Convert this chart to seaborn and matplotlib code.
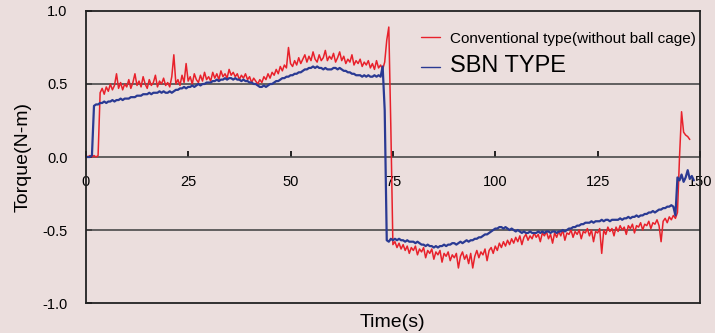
import numpy as np
import pandas as pd
import matplotlib
matplotlib.use("Agg")
import matplotlib.pyplot as plt
from matplotlib import font_manager
import seaborn as sns

conv_torque = [
    0.01, 0.00, 0.01, 0.00, 0.01, 0.00, 0.01, 0.44, 0.47, 0.43, 0.48, 0.45, 0.50, 0.46, 0.49, 0.57, 0.47, 0.51, 0.46, 0.50,
    0.48, 0.53, 0.47, 0.51, 0.57, 0.49, 0.52, 0.48, 0.55, 0.50, 0.47, 0.53, 0.49, 0.51, 0.56, 0.48, 0.52, 0.50, 0.54, 0.49,
    0.51, 0.48, 0.55, 0.70, 0.50, 0.53, 0.49, 0.56, 0.51, 0.64, 0.52, 0.55, 0.50, 0.57, 0.53, 0.51, 0.56, 0.52, 0.58, 0.53,
    0.55, 0.52, 0.58, 0.54, 0.57, 0.53, 0.59, 0.55, 0.57, 0.54, 0.60, 0.56, 0.58, 0.55, 0.57, 0.53, 0.56, 0.54, 0.57, 0.53,
    0.55, 0.51, 0.54, 0.52, 0.50, 0.53, 0.51, 0.55, 0.53, 0.57, 0.54, 0.58, 0.56, 0.60, 0.57, 0.62, 0.59, 0.63, 0.61, 0.75,
    0.64, 0.62, 0.66, 0.63, 0.68, 0.64, 0.67, 0.70, 0.65, 0.69, 0.66, 0.72, 0.67, 0.65, 0.70, 0.66, 0.68, 0.73, 0.66, 0.69,
    0.67, 0.71, 0.65, 0.68, 0.72, 0.66, 0.69, 0.64, 0.67, 0.65, 0.70, 0.63, 0.66, 0.64, 0.67, 0.62, 0.65, 0.63, 0.66, 0.61,
    0.64, 0.60, 0.66, 0.61, 0.63, 0.60, 0.65, 0.80, 0.89, 0.20, -0.60, -0.58, -0.62, -0.59, -0.63, -0.60, -0.64, -0.61, -0.66, -0.62,
    -0.64, -0.61, -0.67, -0.63, -0.65, -0.62, -0.69, -0.64, -0.66, -0.63, -0.70, -0.65, -0.67, -0.64, -0.72, -0.66, -0.68, -0.65, -0.71, -0.67,
    -0.69, -0.66, -0.76, -0.68, -0.65, -0.70, -0.67, -0.73, -0.66, -0.76, -0.68, -0.64, -0.69, -0.65, -0.67, -0.63, -0.71, -0.64, -0.62, -0.66,
    -0.61, -0.64, -0.59, -0.62, -0.58, -0.61, -0.57, -0.60, -0.56, -0.59, -0.55, -0.58, -0.54, -0.60, -0.55, -0.53, -0.57, -0.54, -0.56, -0.52,
    -0.55, -0.53, -0.58, -0.52, -0.54, -0.51, -0.56, -0.53, -0.59, -0.52, -0.55, -0.51, -0.54, -0.50, -0.57, -0.52, -0.53, -0.50, -0.55, -0.51,
    -0.53, -0.50, -0.56, -0.51, -0.52, -0.49, -0.54, -0.50, -0.58, -0.51, -0.52, -0.49, -0.66, -0.50, -0.53, -0.48, -0.51, -0.49, -0.54, -0.48,
    -0.51, -0.47, -0.50, -0.48, -0.53, -0.47, -0.49, -0.46, -0.52, -0.47, -0.48, -0.45, -0.50, -0.46, -0.47, -0.44, -0.49, -0.45, -0.46, -0.43,
    -0.47, -0.58, -0.44, -0.42, -0.45, -0.41, -0.43, -0.40, -0.42, -0.38, 0.00, 0.31, 0.17, 0.15, 0.14, 0.12,
]
sbn_torque = [
    0.00, 0.00, 0.00, 0.01, 0.35, 0.36, 0.36, 0.37, 0.37, 0.38, 0.37, 0.38, 0.38, 0.39, 0.38, 0.39, 0.39, 0.40, 0.39, 0.40,
    0.40, 0.40, 0.41, 0.41, 0.41, 0.42, 0.42, 0.42, 0.43, 0.43, 0.43, 0.44, 0.43, 0.44, 0.44, 0.44, 0.45, 0.44, 0.45, 0.44,
    0.44, 0.45, 0.44, 0.45, 0.46, 0.46, 0.47, 0.47, 0.48, 0.47, 0.48, 0.48, 0.49, 0.48, 0.49, 0.50, 0.49, 0.50, 0.50, 0.51,
    0.51, 0.51, 0.52, 0.52, 0.53, 0.52, 0.53, 0.53, 0.54, 0.53, 0.54, 0.54, 0.53, 0.54, 0.53, 0.53, 0.52, 0.53, 0.52, 0.52,
    0.51, 0.51, 0.50, 0.50, 0.49, 0.48, 0.48, 0.49, 0.48, 0.49, 0.50, 0.50, 0.51, 0.52, 0.52, 0.53, 0.54, 0.54, 0.55, 0.55,
    0.56, 0.56, 0.57, 0.57, 0.58, 0.58, 0.59, 0.60, 0.60, 0.61, 0.61, 0.62, 0.61, 0.62, 0.61, 0.61, 0.60, 0.61, 0.60, 0.60,
    0.60, 0.61, 0.61, 0.60, 0.61, 0.60, 0.59, 0.59, 0.58, 0.58, 0.57, 0.57, 0.56, 0.56, 0.56, 0.55, 0.56, 0.55, 0.56, 0.55,
    0.55, 0.56, 0.55, 0.56, 0.55, 0.62, 0.32, -0.57, -0.58, -0.56, -0.57, -0.56, -0.57, -0.56, -0.57, -0.57, -0.58, -0.57, -0.58, -0.58,
    -0.58, -0.59, -0.58, -0.59, -0.60, -0.60, -0.61, -0.60, -0.61, -0.61, -0.62, -0.61, -0.62, -0.61, -0.61, -0.60, -0.61, -0.60, -0.60, -0.59,
    -0.59, -0.60, -0.59, -0.58, -0.59, -0.58, -0.57, -0.58, -0.57, -0.57, -0.56, -0.56, -0.55, -0.55, -0.54, -0.53, -0.53, -0.52, -0.51, -0.50,
    -0.49, -0.49, -0.48, -0.48, -0.49, -0.48, -0.49, -0.50, -0.49, -0.50, -0.51, -0.50, -0.51, -0.52, -0.51, -0.52, -0.52, -0.51, -0.52, -0.52,
    -0.52, -0.51, -0.52, -0.51, -0.52, -0.51, -0.51, -0.52, -0.51, -0.51, -0.52, -0.51, -0.51, -0.50, -0.51, -0.50, -0.49, -0.49, -0.48, -0.48,
    -0.47, -0.47, -0.46, -0.46, -0.45, -0.45, -0.45, -0.44, -0.45, -0.44, -0.44, -0.44, -0.43, -0.44, -0.43, -0.43, -0.44, -0.43, -0.43, -0.43,
    -0.43, -0.42, -0.43, -0.42, -0.42, -0.41, -0.42, -0.41, -0.41, -0.40, -0.41, -0.40, -0.40, -0.39, -0.39, -0.38, -0.38, -0.37, -0.38, -0.37,
    -0.36, -0.36, -0.35, -0.35, -0.34, -0.34, -0.33, -0.34, -0.40, -0.14, -0.16, -0.12, -0.17, -0.14, -0.09, -0.15, -0.13, -0.16,
]
conv_time = np.arange(len(conv_torque)) * 0.5
sbn_time = np.arange(len(sbn_torque)) * 0.5

x_ticks = [0, 25, 50, 75, 100, 125, 150]
y_ticks = [-1.0, -0.5, 0.0, 0.5, 1.0]
labels = ["Conventional type(without ball cage)", "SBN TYPE"]

bg = "#EBDEDD"
sns.set_theme(style="ticks")
plt.rcParams["font.family"] = ["Liberation Sans", "DejaVu Sans"]
plt.rcParams.update({"text.color": "black", "axes.labelcolor": "black",
                     "xtick.color": "black", "ytick.color": "black"})

# narrow face for the first legend entry, if it is installed
try:
    font_manager.findfont("Liberation Sans Narrow", fallback_to_default=False)
    narrow, narrow_size = ["Liberation Sans Narrow"], 13.5
except ValueError:
    narrow, narrow_size = ["Liberation Sans"], 11

fig = plt.figure(figsize=(7.15, 3.33), dpi=100, facecolor=bg)
ax = fig.add_axes([0.120, 0.090, 0.859, 0.877])
ax.set_facecolor(bg)

sns.lineplot(x=conv_time, y=conv_torque, ax=ax, color="#E8212B", lw=1.1,
             label=labels[0], estimator=None, sort=False)
sns.lineplot(x=sbn_time, y=sbn_torque, ax=ax, color="#2A3A93", lw=1.6,
             label=labels[1], estimator=None, sort=False)

for yv in [0.5, -0.5]:
    ax.axhline(yv, color="#4a4a4a", lw=1.2, zorder=1)

ax.set_xlim(0, 150)
ax.set_ylim(-1, 1)
ax.set_yticks(y_ticks)
ax.set_yticklabels([f"{v:.1f}" for v in y_ticks])
ax.tick_params(axis="y", direction="in", length=4, width=1.2, pad=13,
               labelsize=10.5, colors="black")
ax.set_xticks([])
for s in ax.spines.values():
    s.set_color("#222222")
    s.set_linewidth(1.3)

# tick labels sit just under the zero line
sec = ax.secondary_xaxis(0.4999)
sec.set_xticks(x_ticks)
sec.set_xticklabels([str(v) for v in x_ticks])
sec.tick_params(direction="in", length=4, width=1.2, pad=13, labelsize=10.5,
                colors="black")
sec.spines["bottom"].set_color("#4a4a4a")
sec.spines["bottom"].set_linewidth(1.2)

ax.set_xlabel("Time(s)", fontsize=14, labelpad=8)
ax.set_ylabel("Torque(N-m)", fontsize=14, labelpad=8)

leg = ax.legend(loc="upper left", bbox_to_anchor=(0.535, 0.95), frameon=False,
                handlelength=1.3, handletextpad=0.6, labelspacing=0.6,
                borderaxespad=0)
t0, t1 = leg.get_texts()
t0.set_family(narrow + ["DejaVu Sans"])
t0.set_fontsize(narrow_size)
t1.set_fontsize(17)
for t in (t0, t1):
    t.set_color("black")
for h in leg.get_lines():
    h.set_linewidth(1.0)

fig.savefig("out.png", dpi=100, facecolor=bg)
